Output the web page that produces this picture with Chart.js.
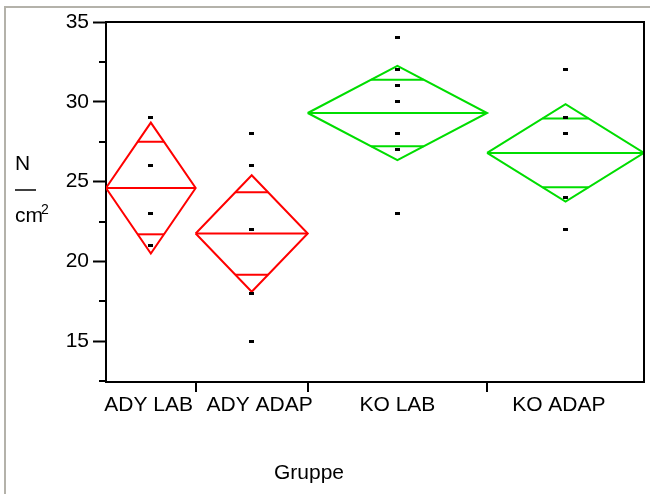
<!DOCTYPE html>
<html>
<head>
<meta charset="utf-8">
<script src="https://cdn.jsdelivr.net/npm/chart.js@4.4.1/dist/chart.umd.min.js"></script>
<style>
  html, body { margin: 0; padding: 0; background: #fff; }
  #wrap { position: relative; width: 650px; height: 494px; overflow: hidden; }
  #frame { position: absolute; left: 4px; top: 6px; width: 700px; height: 600px;
           border-left: 2px solid #b4b2aa; border-top: 2px solid #b4b2aa; }
  canvas { position: absolute; left: 0; top: 0; }
</style>
</head>
<body>
<div id="wrap">
  <div id="frame"></div>
  <canvas id="chart" width="650" height="494"></canvas>
</div>
<script>
// Gruppen, Stichprobengroessen und Mittelwert-Rauten (Mittelwert +/- halbe KI-Breite)
const gruppen = ['ADY LAB', 'ADY ADAP', 'KO LAB', 'KO ADAP'];
const anzahl = [8, 10, 16, 14];
const mittelwerte = [24.6, 21.75, 29.3, 26.8];
const kiHalb = [4.1, 3.65, 2.95, 3.05];
const farben = ['#ff0000', '#ff0000', '#00dd00', '#00dd00'];

// Einzelwerte je Gruppe (N/cm2)
const werteAdyLab = [29, 26, 26, 26, 23, 23, 23, 21];
const werteAdyAdap = [28, 26, 26, 22, 22, 22, 22, 18, 18, 15];
const werteKoLab = [34, 32, 32, 31, 31, 30, 30, 30, 30, 28, 28, 28, 27, 27, 27, 23];
const werteKoAdap = [32, 29, 29, 29, 29, 28, 28, 28, 28, 24, 24, 24, 22, 22];
const werte = [werteAdyLab, werteAdyAdap, werteKoLab, werteKoAdap];

// y-Achse
const yMin = 12.45;
const yMax = 35;
const yStep = 2.5;

// Lage der Gruppenbeschriftung auf der x-Achse (nicht ganz mittig)
const beschriftungX = [3.8, 13.7, 26, 40.4];

const schrift = "'Liberation Sans', Arial, sans-serif";

// Breite jeder Gruppe auf der x-Achse ist proportional zu n
const grenzen = [];
let summe = 0;
anzahl.forEach(n => {
  grenzen.push([summe, summe + n]);
  summe += n;
});
const mitten = grenzen.map(([lo, hi]) => (lo + hi) / 2);

// kleines schwarzes Rechteck als Punktsymbol
const punkt = document.createElement('canvas');
punkt.width = 5;
punkt.height = 3;
const pctx = punkt.getContext('2d');
pctx.fillStyle = '#000';
pctx.fillRect(0, 0, 5, 3);

const datasets = [];

const punkte = [];
werte.forEach((liste, i) => liste.forEach(v => punkte.push({ x: mitten[i], y: v })));
datasets.push({
  label: 'Werte',
  data: punkte,
  pointStyle: punkt,
  pointRadius: 2,
  showLine: false,
  order: 0
});

gruppen.forEach((g, i) => {
  const [lo, hi] = grenzen[i];
  const mid = mitten[i];
  const m = mittelwerte[i];
  const h = kiHalb[i];
  const o = h / Math.SQRT2;                       // Overlap-Marken
  const w = (hi - lo) / 2 * (1 - 1 / Math.SQRT2);  // Breite der Marken in der Raute
  const linie = data => ({
    label: g,
    data: data,
    borderColor: farben[i],
    borderWidth: 2,
    pointRadius: 0,
    showLine: true,
    fill: false,
    order: 1
  });
  datasets.push(linie([
    { x: lo, y: m }, { x: mid, y: m + h }, { x: hi, y: m }, { x: mid, y: m - h }, { x: lo, y: m }
  ]));
  datasets.push(linie([{ x: lo, y: m }, { x: hi, y: m }]));
  datasets.push(linie([{ x: mid - w, y: m + o }, { x: mid + w, y: m + o }]));
  datasets.push(linie([{ x: mid - w, y: m - o }, { x: mid + w, y: m - o }]));
});

function strich(ctx, x1, y1, x2, y2) {
  ctx.beginPath();
  ctx.moveTo(x1, y1);
  ctx.lineTo(x2, y2);
  ctx.stroke();
}

// Rahmen, kleine Ticks, Gruppengrenzen und Achsentitel
const extras = {
  id: 'extras',
  afterDraw(chart) {
    const { ctx, chartArea: a, scales: { x, y } } = chart;
    ctx.save();
    ctx.strokeStyle = '#000';
    ctx.lineWidth = 2;
    ctx.beginPath();
    ctx.moveTo(a.left, a.top);
    ctx.lineTo(a.right, a.top);
    ctx.lineTo(a.right, a.bottom);
    ctx.stroke();

    y.ticks.forEach(t => {
      if (t.value % 5 !== 0) {
        const py = Math.round(y.getPixelForValue(t.value));
        strich(ctx, a.left - 7, py, a.left, py);
      }
    });

    grenzen.slice(1).forEach(([lo]) => {
      const px = Math.round(x.getPixelForValue(lo));
      strich(ctx, px, a.bottom, px, a.bottom + 10);
    });

    ctx.fillStyle = '#000';
    ctx.font = '21px ' + schrift;
    ctx.textAlign = 'left';
    ctx.textBaseline = 'alphabetic';
    ctx.fillText('Gruppe', 274, 479);
    ctx.fillText('N', 15, 170);
    ctx.fillText('cm', 15, 222);
    ctx.font = '14px ' + schrift;
    ctx.fillText('2', 41, 214);
    ctx.lineWidth = 1.5;
    strich(ctx, 15, 190, 36, 190);
    ctx.restore();
  }
};

Chart.defaults.font.family = schrift;
Chart.defaults.font.size = 21;
Chart.defaults.color = '#000';

new Chart(document.getElementById('chart'), {
  type: 'scatter',
  data: { datasets: datasets },
  options: {
    responsive: false,
    animation: false,
    layout: { padding: { top: 22, right: 6, left: 0, bottom: 0 } },
    plugins: {
      legend: { display: false },
      tooltip: { enabled: false }
    },
    scales: {
      x: {
        type: 'linear',
        min: 0,
        max: summe,
        afterBuildTicks: scale => {
          scale.ticks = beschriftungX.map(v => ({ value: v }));
        },
        afterFit: scale => { scale.height = 112; },
        ticks: {
          autoSkip: false,
          maxRotation: 0,
          padding: 1,
          callback: (v, i) => gruppen[i]
        },
        grid: {
          drawOnChartArea: false,
          drawTicks: true,
          tickLength: 10,
          tickColor: 'rgba(0,0,0,0)'
        },
        border: { color: '#000', width: 2 }
      },
      y: {
        min: yMin,
        max: yMax,
        afterFit: scale => { scale.width = 106; },
        ticks: {
          stepSize: yStep,
          includeBounds: false,
          padding: 4,
          callback: v => (v % 5 === 0 ? String(v) : '')
        },
        grid: {
          drawOnChartArea: false,
          drawTicks: true,
          tickLength: 13,
          tickWidth: 2,
          tickColor: c => (c.tick && c.tick.value % 5 === 0 ? '#000' : 'rgba(0,0,0,0)')
        },
        border: { color: '#000', width: 2 }
      }
    }
  },
  plugins: [extras]
});
</script>
</body>
</html>
